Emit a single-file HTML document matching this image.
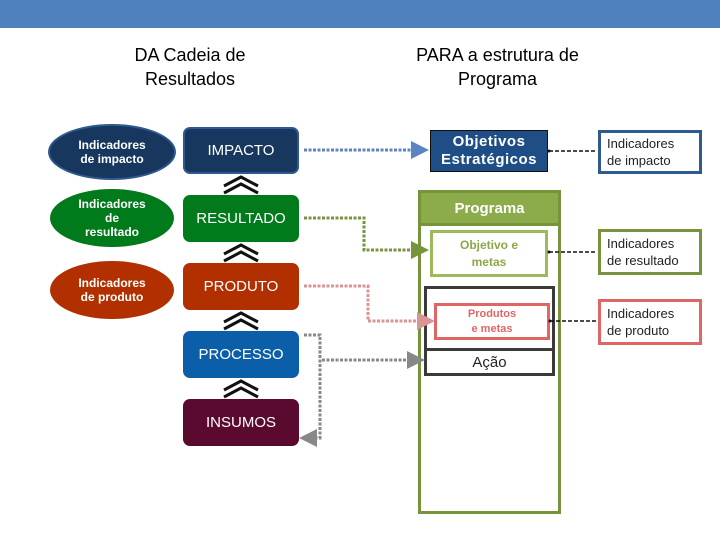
<!DOCTYPE html>
<html><head><style>
body{margin:0;width:720px;height:540px;background:#fff;position:relative;overflow:hidden;font-family:"Liberation Sans",sans-serif}
.a{position:absolute;box-sizing:border-box;display:flex;align-items:center;justify-content:center;text-align:center}
.ov{border-radius:50%;color:#fff;font-size:12px;font-weight:bold;line-height:14px}
.bx{border-radius:7px;color:#fff;font-size:15px}
.nt{color:#222;font-size:13px;line-height:17px;justify-content:flex-start;text-align:left;padding-left:6px;border:3px solid}
</style></head><body>
<div style="position:absolute;left:0;top:0;width:720px;height:28px;background:#4f81bd"></div>
<div class="a" style="left:100px;top:42px;width:180px;height:50px;font-size:18px;line-height:24px">DA Cadeia de<br>Resultados</div>
<div class="a" style="left:385px;top:42px;width:225px;height:50px;font-size:18px;line-height:24px">PARA a estrutura de<br>Programa</div>

<div class="a ov" style="left:48px;top:124px;width:128px;height:56px;background:#17375e;border:2px solid #2e5a8f">Indicadores<br>de impacto</div>
<div class="a ov" style="left:50px;top:189px;width:124px;height:58px;background:#007a1a">Indicadores<br>de<br>resultado</div>
<div class="a ov" style="left:50px;top:261px;width:124px;height:58px;background:#b23000">Indicadores<br>de produto</div>

<div class="a bx" style="left:183px;top:127px;width:116px;height:47px;background:#17375e;border:2px solid #2e5a8f">IMPACTO</div>
<div class="a bx" style="left:183px;top:195px;width:116px;height:47px;background:#007a1a">RESULTADO</div>
<div class="a bx" style="left:183px;top:263px;width:116px;height:47px;background:#b23000">PRODUTO</div>
<div class="a bx" style="left:183px;top:331px;width:116px;height:47px;background:#0b5ea8">PROCESSO</div>
<div class="a bx" style="left:183px;top:399px;width:116px;height:47px;background:#5a0a2e">INSUMOS</div>

<div class="a" style="left:430px;top:130px;width:118px;height:42px;background:#1f4e86;border:1px solid #111;color:#fff;font-size:15px;line-height:18px;font-weight:bold;letter-spacing:0.5px">Objetivos<br>Estratégicos</div>
<div style="position:absolute;left:418px;top:190px;width:143px;height:324px;box-sizing:border-box;border:3px solid #77933c"></div>
<div class="a" style="left:418px;top:190px;width:143px;height:36px;background:#8cab4a;border:3px solid #77933c;color:#fff;font-size:15px;font-weight:bold">Programa</div>
<div class="a" style="left:430px;top:230px;width:118px;height:47px;border:3px solid #9bbb59;color:#8aa84a;font-size:12px;font-weight:bold;line-height:17px;background:#fff">Objetivo e<br>metas</div>
<div style="position:absolute;left:424px;top:286px;width:131px;height:90px;box-sizing:border-box;border:3px solid #3a3a3a"></div>
<div class="a" style="left:434px;top:303px;width:116px;height:37px;border:3px solid #e06666;color:#e06666;font-size:11px;font-weight:bold;line-height:15px;background:#fff">Produtos<br>e metas</div>
<div class="a" style="left:424px;top:348px;width:131px;height:28px;border:3px solid #3a3a3a;font-size:15px;color:#222;background:#fff">Ação</div>

<div class="a nt" style="left:598px;top:130px;width:104px;height:44px;border-color:#2e5a8f">Indicadores<br>de impacto</div>
<div class="a nt" style="left:598px;top:229px;width:104px;height:46px;border-color:#77933c">Indicadores<br>de resultado</div>
<div class="a nt" style="left:598px;top:299px;width:104px;height:46px;border-color:#e06666">Indicadores<br>de produto</div>

<svg width="720" height="540" style="position:absolute;left:0;top:0">
<defs>
<marker id="mb" markerWidth="6" markerHeight="6" refX="3" refY="3" orient="auto"><path d="M0,0L6,3L0,6z" fill="#5b85c0"/></marker>
<marker id="mg" markerWidth="6" markerHeight="6" refX="3" refY="3" orient="auto"><path d="M0,0L6,3L0,6z" fill="#77933c"/></marker>
<marker id="mp" markerWidth="6" markerHeight="6" refX="3" refY="3" orient="auto"><path d="M0,0L6,3L0,6z" fill="#d99594"/></marker>
<marker id="mx" markerWidth="6" markerHeight="6" refX="3" refY="3" orient="auto"><path d="M0,0L6,3L0,6z" fill="#888"/></marker>
</defs>
<g fill="none" stroke-width="3" stroke-dasharray="3,1.5">
<path d="M304,150H420" stroke="#5b85c0" marker-end="url(#mb)"/>
<path d="M304,218H364V250H420" stroke="#77933c" marker-end="url(#mg)"/>
<path d="M304,286H368V321H426" stroke="#d99594" marker-end="url(#mp)"/>
<path d="M304,335H320V438H308" stroke="#888" marker-end="url(#mx)"/>
<path d="M322,360H416" stroke="#888" marker-end="url(#mx)"/>
</g>
<g fill="none" stroke="#111" stroke-width="1.5" stroke-dasharray="4,2">
<path d="M549,151H596"/><path d="M549,252H596"/><path d="M550,321H596"/>
</g>
<g fill="#111"><circle cx="549" cy="151" r="1.5"/><circle cx="549" cy="252" r="1.5"/><circle cx="550" cy="321" r="1.5"/></g>
<g fill="none" stroke="#111" stroke-width="3">
<path d="M224,186L241,177L258,186M224,193L241,184L258,193"/>
<path d="M224,254L241,245L258,254M224,261L241,252L258,261"/>
<path d="M224,322L241,313L258,322M224,329L241,320L258,329"/>
<path d="M224,390L241,381L258,390M224,397L241,388L258,397"/>
</g>
</svg>
</body></html>
